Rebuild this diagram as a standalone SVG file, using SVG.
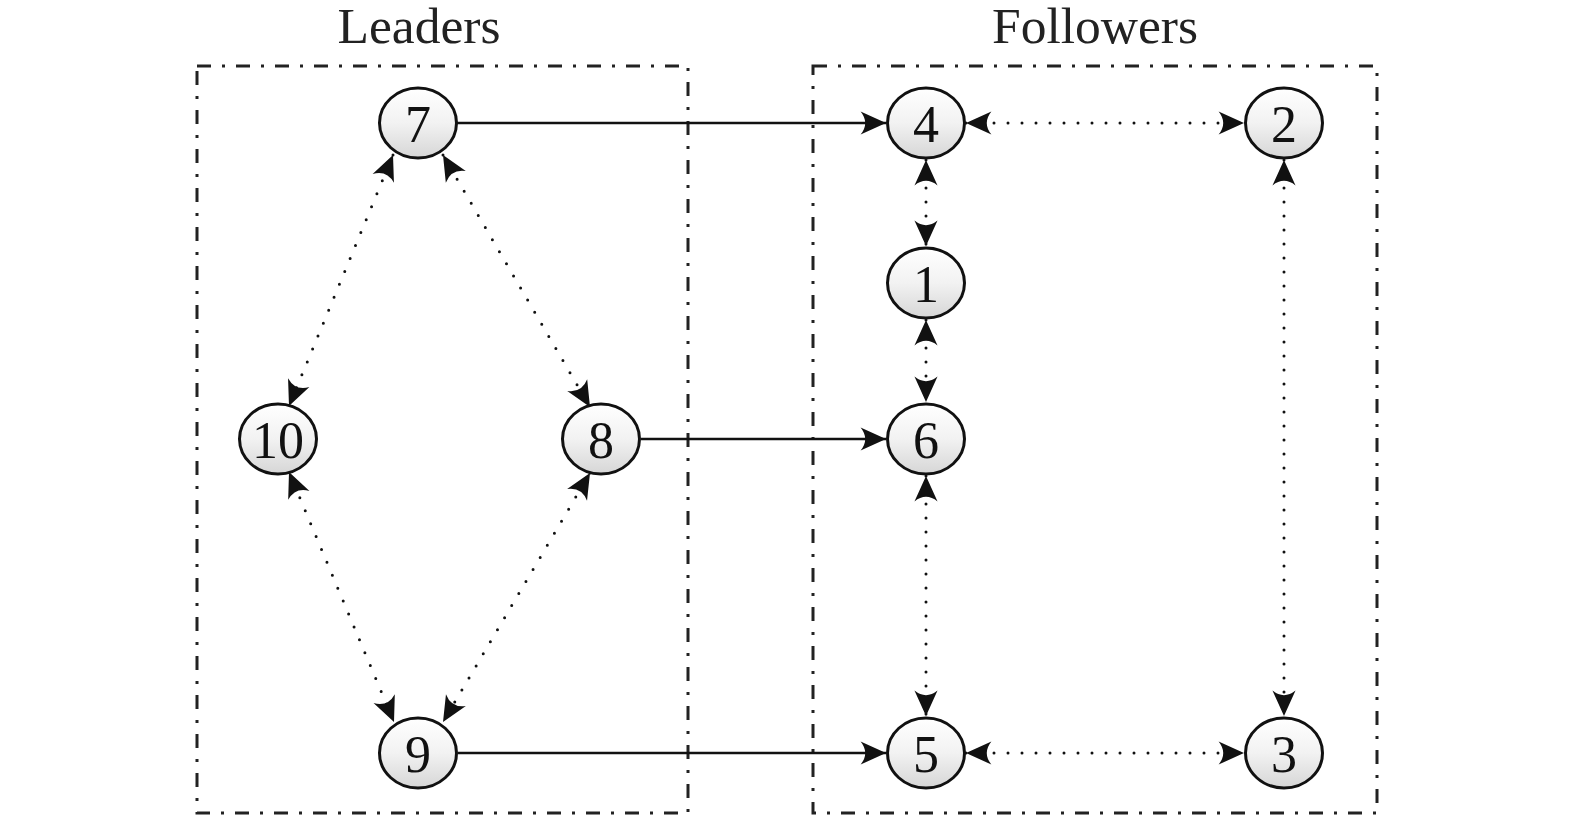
<svg xmlns="http://www.w3.org/2000/svg" width="1575" height="819" viewBox="0 0 1575 819">
<style>
.box{fill:none;stroke:#222;stroke-width:3;stroke-dasharray:14 11 3 11}
.node ellipse{fill:url(#g);stroke:#111;stroke-width:3}
.node text{font-family:"Liberation Serif","Times New Roman",serif;font-size:52px;fill:#111;text-anchor:middle}
.title{font-family:"Liberation Serif","Times New Roman",serif;font-size:51.5px;fill:#222;text-anchor:middle}
.solid{stroke:#111;stroke-width:2.5;fill:none;marker-end:url(#ah)}
.dot{stroke:#111;stroke-width:3;fill:none;stroke-linecap:round;stroke-dasharray:0 14;marker-start:url(#ahs);marker-end:url(#ah)}
</style>
<defs>
<linearGradient id="g" x1="0" y1="0" x2="0" y2="1">
<stop offset="0" stop-color="#ffffff"/>
<stop offset="0.5" stop-color="#f2f2f2"/>
<stop offset="1" stop-color="#d6d6d6"/>
</linearGradient>
<marker id="ah" markerUnits="userSpaceOnUse" markerWidth="30" markerHeight="30" refX="22" refY="0" viewBox="-2 -12 26 24" orient="auto" overflow="visible">
<path d="M22,0 L0,-10 Q8,0 0,10 Z" fill="#111"/>
</marker>
<marker id="ahs" markerUnits="userSpaceOnUse" markerWidth="30" markerHeight="30" refX="22" refY="0" viewBox="-2 -12 26 24" orient="auto-start-reverse" overflow="visible">
<path d="M22,0 L0,-10 Q8,0 0,10 Z" fill="#111"/>
</marker>
</defs>
<rect width="1575" height="819" fill="#fff"/>
<g id="groups">
<rect class="box" x="197" y="66" width="491" height="747"/>
<rect class="box" x="813" y="66" width="564" height="747"/>
<text class="title" x="419" y="43">Leaders</text>
<text class="title" x="1095" y="43">Followers</text>
</g>
<g id="connectors">
<line class="solid" x1="457" y1="123" x2="886" y2="123"/>
<line class="solid" x1="641" y1="439" x2="886" y2="439"/>
<line class="solid" x1="458" y1="753" x2="886" y2="753"/>
<line class="dot" x1="393" y1="155" x2="289" y2="406"/>
<line class="dot" x1="443" y1="155" x2="590" y2="407"/>
<line class="dot" x1="289" y1="472" x2="394" y2="722"/>
<line class="dot" x1="590" y1="473" x2="443" y2="722"/>
<line class="dot" x1="926" y1="160" x2="926" y2="246"/>
<line class="dot" x1="926" y1="320" x2="926" y2="402"/>
<line class="dot" x1="926" y1="476" x2="926" y2="716"/>
<line class="dot" x1="1284" y1="160" x2="1284" y2="716"/>
<line class="dot" x1="966" y1="123" x2="1244" y2="123"/>
<line class="dot" x1="966" y1="753" x2="1244" y2="753"/>
</g>
<g id="n7" class="node"><ellipse cx="418" cy="123" rx="38.5" ry="35"/><text x="418" y="142">7</text></g>
<g id="n10" class="node"><ellipse cx="278" cy="439" rx="38.5" ry="35"/><text x="278" y="458">10</text></g>
<g id="n8" class="node"><ellipse cx="601" cy="439" rx="38.5" ry="35"/><text x="601" y="458">8</text></g>
<g id="n9" class="node"><ellipse cx="418" cy="753" rx="38.5" ry="35"/><text x="418" y="772">9</text></g>
<g id="n4" class="node"><ellipse cx="926" cy="123" rx="38.5" ry="35"/><text x="926" y="142">4</text></g>
<g id="n1" class="node"><ellipse cx="926" cy="283" rx="38.5" ry="35"/><text x="926" y="302">1</text></g>
<g id="n6" class="node"><ellipse cx="926" cy="439" rx="38.5" ry="35"/><text x="926" y="458">6</text></g>
<g id="n5" class="node"><ellipse cx="926" cy="753" rx="38.5" ry="35"/><text x="926" y="772">5</text></g>
<g id="n2" class="node"><ellipse cx="1284" cy="123" rx="38.5" ry="35"/><text x="1284" y="142">2</text></g>
<g id="n3" class="node"><ellipse cx="1284" cy="753" rx="38.5" ry="35"/><text x="1284" y="772">3</text></g>
</svg>
